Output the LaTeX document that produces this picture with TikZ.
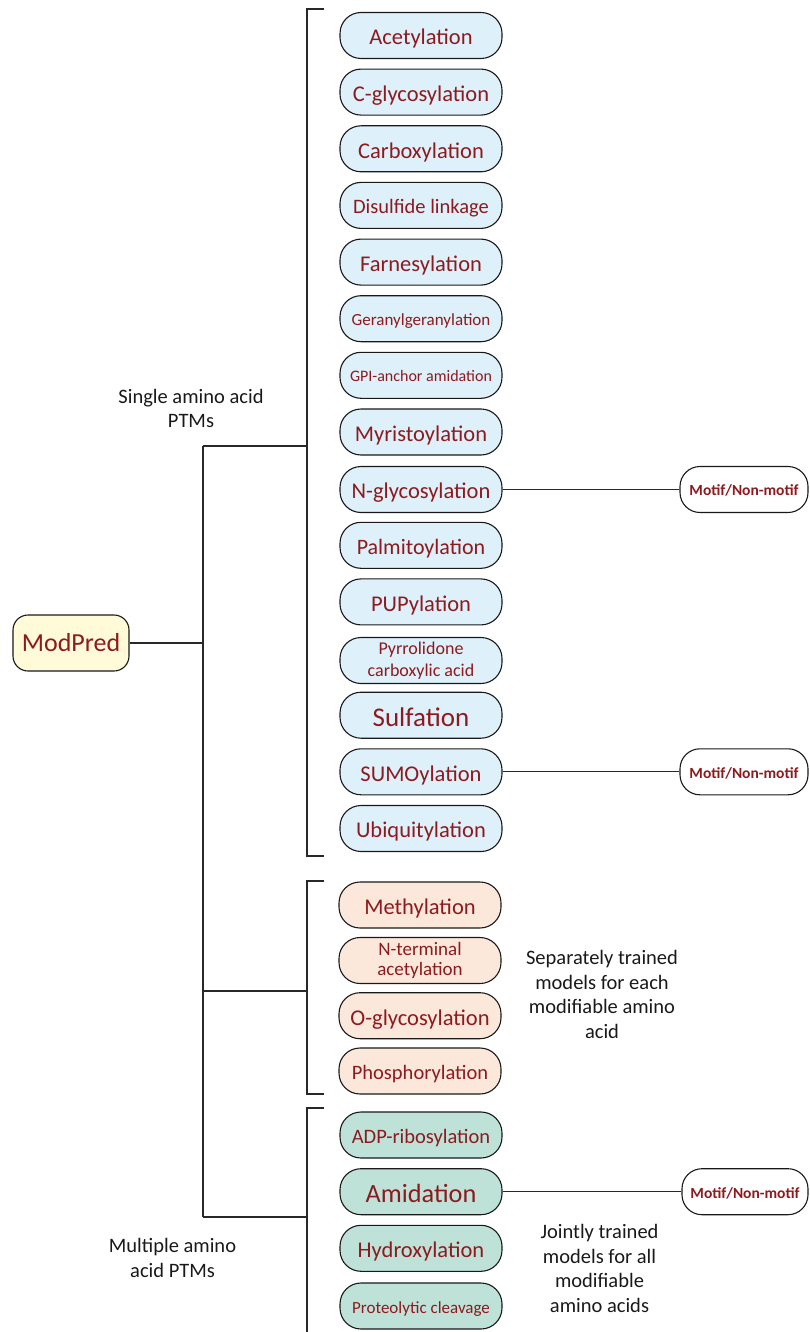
\documentclass[tikz,border=0pt]{standalone}
\usepackage{fontspec}
\setmainfont{Carlito}
\definecolor{tred}{RGB}{140,26,30}
\definecolor{fblue}{RGB}{222,241,250}
\definecolor{forange}{RGB}{252,232,218}
\definecolor{fgreen}{RGB}{190,226,216}
\definecolor{fyellow}{RGB}{255,250,215}
\definecolor{lgray}{RGB}{40,40,40}
\tikzset{
  ptm/.style={draw=black!90, line width=1.1pt, rounded corners=21pt, minimum width=162pt, minimum height=46pt, inner sep=0pt, text=tred, align=center, font=\fontsize{22.5}{26}\selectfont},
  sl/.style={text height=#1, text depth=0pt},
  sl/.default=18.7pt,
  blue/.style={ptm, fill=fblue, sl},
  orng/.style={ptm, fill=forange, sl},
  grn/.style={ptm, fill=fgreen, sl},
  bluetwo/.style={ptm, fill=fblue},
  orngtwo/.style={ptm, fill=forange},
  motif/.style={draw=black!90, line width=1.1pt, rounded corners=20pt, minimum width=128pt, minimum height=46pt, inner sep=0pt, text=tred, font=\fontsize{15.5}{18}\selectfont\bfseries, text height=12.9pt, text depth=0pt},
  lbl/.style={align=center, text=black!90, font=\fontsize{20.5}{24.4}\selectfont, inner sep=0pt},
  wire/.style={draw=lgray, line width=1.1pt},
}
\begin{document}
\begin{tikzpicture}[x=1pt,y=-1pt]
\useasboundingbox (0,0) rectangle (809,1332);
% root
\node[draw=black!90, line width=1.1pt, rounded corners=15pt, fill=fyellow, minimum width=116pt, minimum height=56pt, inner sep=0pt, text=tred, font=\fontsize{26}{30}\selectfont] (root) at (71,643) {ModPred};
% blue group
\node[blue] (b1) at (421,35.5) {Acetylation};
\node[blue] (b2) at (421,92.1) {C-glycosylation};
\node[blue] (b3) at (421,148.8) {Carboxylation};
\node[blue, font=\fontsize{20.5}{24}\selectfont, sl=17pt] (b4) at (421,205.4) {Disulfide linkage};
\node[blue] (b5) at (421,262.1) {Farnesylation};
\node[blue, font=\fontsize{17}{20}\selectfont, sl=14.1pt] (b6) at (421,318.7) {Geranylgeranylation};
\node[blue, font=\fontsize{16}{19}\selectfont, sl=13.3pt] (b7) at (421,375.3) {GPI-anchor amidation};
\node[blue] (b8) at (421,432) {Myristoylation};
\node[blue] (b9) at (421,489.5) {N-glycosylation};
\node[blue, font=\fontsize{22}{26}\selectfont, sl=18.3pt] (b10) at (421,545.3) {Palmitoylation};
\node[blue] (b11) at (421,601.9) {PUPylation};
\node[bluetwo, font=\fontsize{18}{22}\selectfont] (b12) at (421,660.5) {Pyrrolidone\\carboxylic acid};
\node[blue, font=\fontsize{27}{30}\selectfont, sl=22.4pt] (b13) at (421,715.2) {Sulfation};
\node[blue] (b14) at (421,771.8) {SUMOylation};
\node[blue] (b15) at (421,828.5) {Ubiquitylation};
% orange group
\node[orng] (o1) at (420,905) {Methylation};
\node[orngtwo, font=\fontsize{19}{20.5}\selectfont] (o2) at (420,960.5) {N-terminal\\acetylation};
\node[orng] (o3) at (420,1015.7) {O-glycosylation};
\node[orng, font=\fontsize{20.5}{24}\selectfont, sl=17pt] (o4) at (420,1071) {Phosphorylation};
% green group
\node[grn, font=\fontsize{20.5}{24}\selectfont, sl=17pt] (g1) at (421,1135) {ADP-ribosylation};
\node[grn, font=\fontsize{26.3}{30}\selectfont, sl=21.8pt] (g2) at (421,1191.7) {Amidation};
\node[grn] (g3) at (421,1248.3) {Hydroxylation};
\node[grn, font=\fontsize{17}{20}\selectfont, sl=14.1pt] (g4) at (421,1306) {Proteolytic cleavage};
% motif boxes
\node[motif, minimum width=128pt] (m1) at (744,489.5) {Motif/Non-motif};
\node[motif, minimum width=128pt] (m2) at (744,771.8) {Motif/Non-motif};
\node[motif, minimum width=126pt] (m3) at (745,1191.7) {Motif/Non-motif};
% labels
\node[lbl] (l1) at (191,408.5) {Single amino acid\\PTMs};
\node[lbl] (l2) at (172.5,1258) {Multiple amino\\acid PTMs};
\node[lbl] (l3) at (602,994.5) {Separately trained\\models for each\\modifiable amino\\acid};
\node[lbl] (l4) at (599.5,1268.5) {Jointly trained\\models for all\\modifiable\\amino acids};
% tree coordinates
\coordinate (rj) at (203,643);
\coordinate (ja) at (203,446);
\coordinate (jb) at (203,991);
\coordinate (jc) at (203,1217);
\coordinate (ka) at (307,446);
\coordinate (kb) at (307,991);
\coordinate (kc) at (307,1217);
% brackets
\coordinate (a1) at (324,9);  \coordinate (a2) at (307,9);
\coordinate (a3) at (307,856); \coordinate (a4) at (324,856);
\coordinate (c1) at (324,881); \coordinate (c2) at (307,881);
\coordinate (c3) at (307,1094); \coordinate (c4) at (324,1094);
\coordinate (d1) at (324,1108); \coordinate (d2) at (307,1108);
\coordinate (d3) at (307,1332);
\draw[wire] (a1) -- (a2) -- (a3) -- (a4);
\draw[wire] (c1) -- (c2) -- (c3) -- (c4);
\draw[wire] (d1) -- (d2) -- (d3);
\draw[wire] (root.east) -- (rj);
\draw[wire] (ja) -- (jc);
\draw[wire] (ja) -- (ka);
\draw[wire] (jb) -- (kb);
\draw[wire] (jc) -- (kc);
\draw[wire] (b9.east) -- (m1.west);
\draw[wire] (b14.east) -- (m2.west);
\draw[wire] (g2.east) -- (m3.west);
\end{tikzpicture}
\end{document}
